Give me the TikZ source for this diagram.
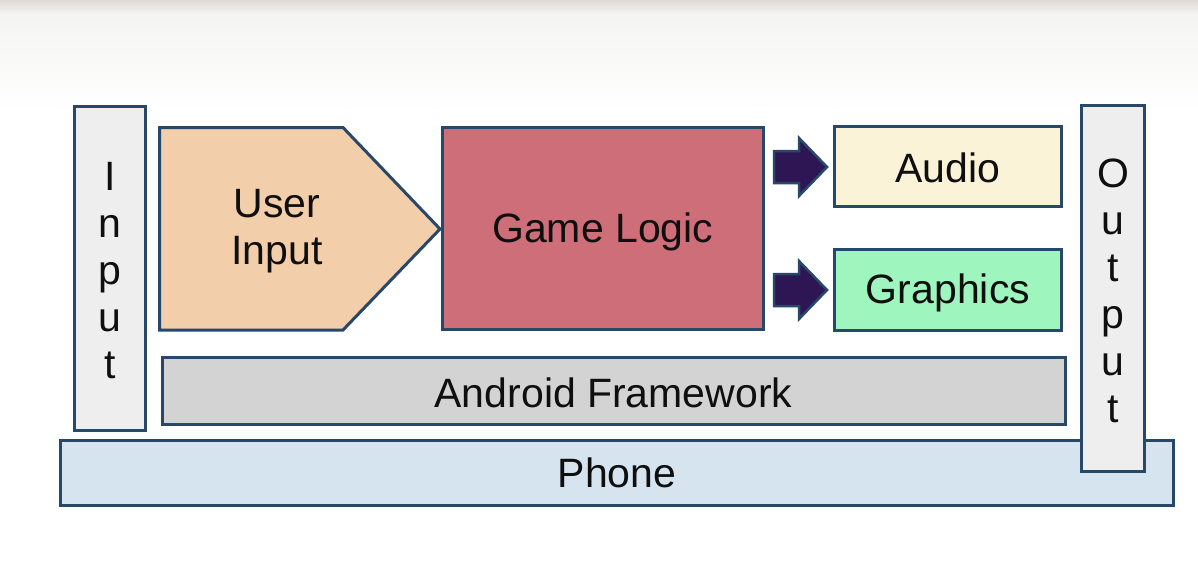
\documentclass[tikz,border=0pt]{standalone}
\usepackage{fontspec}
\setmainfont{Liberation Sans}
\definecolor{bcol}{RGB}{40,72,106}
\definecolor{txt}{RGB}{15,15,15}
\definecolor{uifill}{RGB}{242,206,170}
\definecolor{glfill}{RGB}{206,110,120}
\definecolor{aufill}{RGB}{251,243,216}
\definecolor{grfill}{RGB}{158,245,190}
\definecolor{anfill}{RGB}{211,211,211}
\definecolor{phfill}{RGB}{214,228,240}
\definecolor{iofill}{RGB}{238,238,238}
\definecolor{arfill}{RGB}{46,22,84}
\definecolor{bgtop}{RGB}{222,219,214}
\definecolor{bgmid}{RGB}{244,244,243}
\newcommand{\labfont}{\fontsize{41}{47}\selectfont}
\tikzset{
  box/.style={draw=bcol, line width=3pt, inner sep=0pt},
  lab/.style={text=txt, font=\labfont, align=center, inner sep=0pt},
  blockarrow/.style={draw=bcol, fill=arfill, line width=2.5pt, line join=miter}
}
\begin{document}
\begin{tikzpicture}[x=1pt,y=-1pt]
\useasboundingbox (0,0) rectangle (1198,574);
\fill[white] (0,0) rectangle (1198,574);
\shade[top color=bgtop, bottom color=bgmid] (0,0) rectangle (1198,14);
\shade[top color=bgmid, bottom color=white] (0,14) rectangle (1198,110);
% Phone
\node[box, fill=phfill, minimum width=1112.5pt, minimum height=65pt] (phone) at (617,473) {};
\node[lab] (phonet) at (phone.center) {Phone};
% Output column
\node[box, fill=iofill, minimum width=62.5pt, minimum height=366pt] (output) at (1113,288.5) {};
\node[lab, yshift=-2pt] (outputt) at (output.center) {O\\u\\t\\p\\u\\t};
% Input column
\node[box, fill=iofill, minimum width=71pt, minimum height=324pt] (input) at (110,268.5) {};
\node[lab, yshift=-2pt] (inputt) at (input.center) {I\\n\\p\\u\\t};
% Android framework
\node[box, fill=anfill, minimum width=903pt, minimum height=67pt] (android) at (613.5,391) {};
\node[lab, yshift=-1.5pt] (androidt) at (android.center) {Android Framework};
% Game logic
\node[box, fill=glfill, minimum width=321.5pt, minimum height=202pt] (game) at (602.75,228.5) {};
\node[lab, yshift=-3pt] (gamet) at (game.center) {Game Logic};
% Audio & Graphics
\node[box, fill=aufill, minimum width=227pt, minimum height=80pt] (audio) at (948,166.5) {};
\node[lab, yshift=-1pt] (audiot) at (audio.center) {Audio};
\node[box, fill=grfill, minimum width=227pt, minimum height=81pt] (graphics) at (948,290) {};
\node[lab, yshift=-3pt] (graphicst) at (graphics.center) {Graphics};
% User input pentagon
\draw[bcol, fill=uifill, line width=3pt, line join=miter]
  (159.5,127.5) -- (343,127.5) -- (440,229) -- (343,330) -- (159.5,330) -- cycle;
\node[lab] (ui) at (277,231) {User\\Input};
% Block arrows
\draw[blockarrow] (774,151) -- (799,151) -- (799,138) -- (827,167) -- (799,196) -- (799,183) -- (774,183) -- cycle;
\draw[blockarrow] (774,274) -- (799,274) -- (799,261) -- (827,290) -- (799,319) -- (799,306) -- (774,306) -- cycle;
\end{tikzpicture}
\end{document}
